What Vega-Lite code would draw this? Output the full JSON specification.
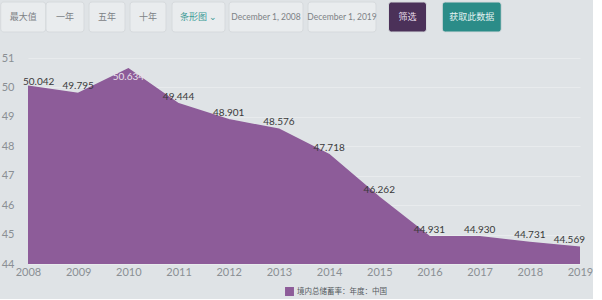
{
  "$schema": "https://vega.github.io/schema/vega-lite/v6.json",
  "background": "#dfe3e6",
  "padding": {"left": 0, "top": 1, "right": 0, "bottom": 0},
  "spacing": 19,
  "resolve": {"scale": {"x": "independent", "y": "independent", "color": "independent"}},
  "config": {
    "view": {"stroke": null},
    "font": "Lato",
    "axis": {"labelFont": "Lato", "labelColor": "#8a8f94", "labelFontSize": 11, "domain": false, "ticks": false}
  },
  "vconcat": [
    {
      "width": 480,
      "height": 30,
      "data": {"values": [
        {"button": "最大值", "order": 1, "kind": "plain"},
        {"button": "一年", "order": 2, "kind": "plain"},
        {"button": "五年", "order": 3, "kind": "plain"},
        {"button": "十年", "order": 4, "kind": "plain"},
        {"button": "条形图     ⌄", "order": 5, "kind": "select"},
        {"button": "December 1, 2008", "order": 6, "kind": "date"},
        {"button": "December 1, 2019", "order": 7, "kind": "date"},
        {"button": "筛选", "order": 8, "kind": "dark"},
        {"button": "获取此数据", "order": 9, "kind": "teal"}
      ]},
      "encoding": {
        "x": {"field": "order", "type": "quantitative", "axis": null,
          "scale": {"domain": [1, 2, 3, 4, 5, 6, 7, 8, 9], "range": [-8.5, 37, 79, 120, 170.5, 238, 314, 379.5, 449.5], "nice": false, "zero": false}},
        "fill": {"condition": [
          {"test": "datum.kind === 'dark'", "value": "#4b3159"},
          {"test": "datum.kind === 'teal'", "value": "#2b8c88"}
        ], "value": "#e9ecee"}
      },
      "layer": [
        {"transform": [{"filter": "datum.order == 1"}], "mark": {"type": "bar", "orient": "vertical", "width": 45, "cornerRadius": 3, "stroke": "#d6dadd", "strokeWidth": 1},
          "encoding": {"y": {"datum": 1, "type": "quantitative", "scale": {"domain": [0, 1], "nice": false}, "axis": null}}},
        {"transform": [{"filter": "datum.order == 2 || datum.order == 8"}], "mark": {"type": "bar", "orient": "vertical", "width": 38, "cornerRadius": 3, "stroke": "#d6dadd", "strokeWidth": 1},
          "encoding": {"y": {"datum": 1, "type": "quantitative", "axis": null}}},
        {"transform": [{"filter": "datum.order == 3 || datum.order == 4"}], "mark": {"type": "bar", "orient": "vertical", "width": 36, "cornerRadius": 3, "stroke": "#d6dadd", "strokeWidth": 1},
          "encoding": {"y": {"datum": 1, "type": "quantitative", "axis": null}}},
        {"transform": [{"filter": "datum.order == 5"}], "mark": {"type": "bar", "orient": "vertical", "width": 53, "cornerRadius": 3, "stroke": "#d6dadd", "strokeWidth": 1},
          "encoding": {"y": {"datum": 1, "type": "quantitative", "axis": null}}},
        {"transform": [{"filter": "datum.order == 6"}], "mark": {"type": "bar", "orient": "vertical", "width": 74, "cornerRadius": 3, "stroke": "#d6dadd", "strokeWidth": 1},
          "encoding": {"y": {"datum": 1, "type": "quantitative", "axis": null}}},
        {"transform": [{"filter": "datum.order == 7"}], "mark": {"type": "bar", "orient": "vertical", "width": 68, "cornerRadius": 3, "stroke": "#d6dadd", "strokeWidth": 1},
          "encoding": {"y": {"datum": 1, "type": "quantitative", "axis": null}}},
        {"transform": [{"filter": "datum.order == 9"}], "mark": {"type": "bar", "orient": "vertical", "width": 59, "cornerRadius": 3, "stroke": "#d6dadd", "strokeWidth": 1},
          "encoding": {"y": {"datum": 1, "type": "quantitative", "axis": null}}},
        {
          "transform": [{"filter": "datum.kind !== 'date'"}],
          "mark": {"type": "text", "fontSize": 9, "font": "Noto Sans CJK SC"},
          "encoding": {
            "text": {"field": "button"},
            "fill": {"condition": [
              {"test": "datum.kind === 'dark'", "value": "#e6dcea"},
              {"test": "datum.kind === 'teal'", "value": "#e2f2f1"},
              {"test": "datum.kind === 'select'", "value": "#3a9a95"}
            ], "value": "#7d8286"}
          }
        },
        {
          "transform": [{"filter": "datum.kind === 'date'"}],
          "mark": {"type": "text", "fontSize": 8.5, "font": "Lato"},
          "encoding": {"text": {"field": "button"}, "fill": {"value": "#7d8286"}}
        }
      ]
    },
    {
      "width": 552,
      "height": 206,
      "data": {"values": [
        {"year": 2008, "rate": 50.042, "series": "境内总储蓄率：年度：中国"},
        {"year": 2009, "rate": 49.795, "series": "境内总储蓄率：年度：中国"},
        {"year": 2010, "rate": 50.634, "series": "境内总储蓄率：年度：中国"},
        {"year": 2011, "rate": 49.444, "series": "境内总储蓄率：年度：中国"},
        {"year": 2012, "rate": 48.901, "series": "境内总储蓄率：年度：中国"},
        {"year": 2013, "rate": 48.576, "series": "境内总储蓄率：年度：中国"},
        {"year": 2014, "rate": 47.718, "series": "境内总储蓄率：年度：中国"},
        {"year": 2015, "rate": 46.262, "series": "境内总储蓄率：年度：中国"},
        {"year": 2016, "rate": 44.931, "series": "境内总储蓄率：年度：中国"},
        {"year": 2017, "rate": 44.930, "series": "境内总储蓄率：年度：中国"},
        {"year": 2018, "rate": 44.731, "series": "境内总储蓄率：年度：中国"},
        {"year": 2019, "rate": 44.569, "series": "境内总储蓄率：年度：中国"}
      ]},
      "encoding": {
        "x": {"field": "year", "type": "quantitative", "scale": {"domain": [2008, 2019], "nice": false, "zero": false},
          "axis": {"format": "d", "values": [2008, 2009, 2010, 2011, 2012, 2013, 2014, 2015, 2016, 2017, 2018, 2019], "grid": false, "labelPadding": 2, "labelFontSize": 11, "labelOverlap": false, "labelFlush": false, "title": null}},
        "y": {"field": "rate", "type": "quantitative", "scale": {"domain": [44, 51], "nice": false, "zero": false},
          "axis": {"values": [44, 45, 46, 47, 48, 49, 50, 51], "gridColor": "#e8ebed", "gridWidth": 1, "labelPadding": 14, "title": null}}
      },
      "layer": [
        {
          "mark": {"type": "area", "opacity": 1, "line": {"color": "#c3a3cb", "strokeWidth": 1.5}},
          "encoding": {
            "y2": {"datum": 44},
            "color": {"field": "series", "type": "nominal", "scale": {"range": ["#8d5c99"]},
              "legend": {"orient": "none", "legendX": 257, "legendY": 229, "title": null, "symbolType": "square", "symbolSize": 55, "symbolOpacity": 1, "symbolFillColor": "#74467f", "labelFont": "Noto Sans CJK SC", "labelFontSize": 7.5, "labelColor": "#555a5e", "labelOffset": 3}}
          }
        },
        {
          "transform": [{"filter": "datum.year > 2010 && datum.year < 2019 || datum.year == 2009"}],
          "mark": {"type": "text", "fontSize": 10, "dy": -7, "color": "#3a3a3a"},
          "encoding": {"text": {"field": "rate", "type": "quantitative", "format": ".3f"}}
        },
        {
          "transform": [{"filter": "datum.year == 2010"}],
          "mark": {"type": "text", "fontSize": 10, "dy": 8, "color": "#e8e0ea"},
          "encoding": {"text": {"field": "rate", "type": "quantitative", "format": ".3f"}}
        },
        {
          "transform": [{"filter": "datum.year == 2008"}],
          "mark": {"type": "text", "fontSize": 10, "dy": -4, "align": "left", "dx": -5, "color": "#3a3a3a"},
          "encoding": {"text": {"field": "rate", "type": "quantitative", "format": ".3f"}}
        },
        {
          "transform": [{"filter": "datum.year == 2019"}],
          "mark": {"type": "text", "fontSize": 10, "dy": -7, "align": "right", "dx": 5, "color": "#3a3a3a"},
          "encoding": {"text": {"field": "rate", "type": "quantitative", "format": ".3f"}}
        }
      ]
    }
  ]
}
